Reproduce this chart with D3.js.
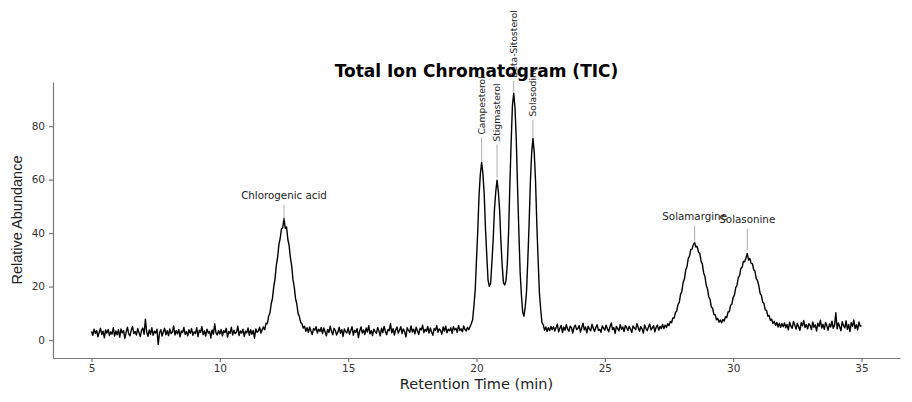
<!DOCTYPE html>
<html lang="en">
  <head>
    <meta charset="UTF-8" />
    <title>Total Ion Chromatogram (TIC)</title>
    <script src="https://cdn.jsdelivr.net/npm/d3@7"></script>
    <style>
      body { margin: 0; background: #fff; }
      .axis text { font-family: "DejaVu Sans", sans-serif; font-size: 10.5px; fill: #333; }
      .axis path, .axis line { stroke: #777; stroke-width: 1.2; }
    </style>
  </head>
  <body>
    <svg width="912" height="402"></svg>

    <script>
      // signal sampled every 0.05 min from 5.00 to 35.00 (one row per minute)
      var startTime = 5,
        sampleStep = 0.05;
      var abundance = [
        3.2, 1.8, 4.1, 2.5, 3.6, 1.2, 2.9, 4.4, 2.1, 3.3, 0.9, 3.8, 2.6, 4.0, 1.7, 3.1, 2.2, 4.6, 1.5, 3.4, // 5
        2.0, 3.9, 1.1, 4.2, 2.7, 3.5, 0.6, 3.0, 4.8, 2.3, 1.6, 3.7, 5.1, 2.4, 3.2, 1.9, 4.3, 2.8, 1.3, 3.6, // 6
        4.5, 2.2, 7.8, 2.9, 1.4, 3.8, 2.1, 4.6, 1.8, 3.3, 2.6, 4.1, -1.6, 2.7, 3.9, 1.5, 3.1, 4.4, 2.0, 3.5, // 7
        1.7, 4.2, 2.4, 3.0, 5.3, 1.9, 3.6, 2.3, 4.0, 1.2, 3.4, 2.8, 4.7, 2.1, 3.2, 1.6, 3.9, 2.5, 4.3, 1.8, // 8
        3.1, 2.4, 4.6, 1.3, 3.7, 2.9, 5.0, 2.0, 3.4, 1.5, 4.1, 2.6, 3.3, 0.8, 3.8, 2.2, 6.1, 2.7, 1.9, 3.6, // 9
        2.3, 4.0, 1.6, 3.5, 2.8, 4.4, 1.1, 3.2, 2.5, 4.8, 1.9, 3.7, 2.4, 3.0, 5.2, 1.7, 3.4, 2.6, 4.1, 1.4, // 10
        3.3, 2.7, 4.5, 1.8, 3.9, 2.2, 3.6, 0.7, 4.2, 2.9, 3.4, 4.8, 2.6, 3.9, 4.9, 3.9, 6.3, 6.1, 8.9, 10.0, // 11
        13.4, 15.6, 19.9, 22.8, 27.9, 30.8, 35.6, 37.9, 41.5, 42.0, 45.5, 41.8, 42.3, 37.6, 35.4, 30.7, 27.8, 22.6, 19.8, 15.5, // 12
        13.4, 9.9, 8.8, 6.6, 6.1, 4.5, 5.2, 3.3, 4.6, 2.9, 4.9, 3.4, 2.1, 4.3, 3.7, 5.0, 2.6, 4.1, 3.2, 4.7, // 13
        2.4, 4.5, 3.1, 1.6, 4.0, 2.8, 5.2, 3.3, 2.0, 4.4, 3.6, 1.9, 3.0, 4.8, 2.5, 3.9, 1.4, 4.2, 3.1, 2.7, // 14
        4.6, 2.2, 3.5, 5.0, 1.8, 3.7, 2.9, 4.3, 0.9, 3.4, 4.9, 2.6, 3.8, 2.1, 4.5, 3.0, 5.4, 2.3, 3.6, 1.7, // 15
        4.1, 3.2, 2.5, 4.7, 3.4, 1.6, 4.4, 2.8, 5.1, 3.3, 2.0, 4.0, 3.5, 6.2, 2.7, 4.3, 1.9, 3.8, 4.9, 2.6, // 16
        3.7, 5.0, 2.4, 4.2, 3.1, 1.2, 4.6, 3.6, 2.9, 5.3, 3.0, 4.1, 2.3, 4.8, 3.5, 2.1, 4.4, 3.8, 5.6, 2.8, // 17
        4.0, 3.3, 5.1, 2.6, 4.5, 3.0, 1.8, 4.3, 3.7, 5.4, 2.9, 4.2, 3.6, 2.2, 4.9, 3.4, 5.2, 2.7, 4.1, 3.5, // 18
        4.6, 2.5, 5.0, 3.8, 4.4, 2.9, 5.5, 3.6, 4.2, 3.1, 5.3, 4.0, 3.4, 4.8, 3.9, 5.1, 6.2, 7.6, 12.9, 18.8, // 19
        30.1, 41.0, 54.3, 62.1, 66.4, 62.3, 54.5, 41.6, 31.7, 22.4, 20.1, 21.2, 29.0, 37.5, 48.9, 55.4, 59.8, 55.6, 48.7, 37.1, // 20
        28.2, 21.4, 20.6, 22.3, 28.4, 40.2, 58.1, 74.0, 87.7, 92.3, 86.8, 75.0, 56.9, 40.7, 25.5, 16.8, 10.4, 8.9, 12.6, 18.2, // 21
        30.2, 43.5, 59.5, 70.1, 75.4, 70.0, 59.6, 43.4, 30.1, 17.9, 11.6, 6.5, 5.8, 3.7, 4.9, 3.2, 4.6, 3.5, 5.1, 3.9, // 22
        5.0, 3.4, 4.7, 6.0, 3.1, 4.4, 5.5, 2.8, 4.9, 3.7, 5.8, 4.1, 3.3, 5.2, 4.6, 2.6, 4.8, 5.6, 3.9, 4.3, // 23
        5.4, 3.0, 4.6, 6.3, 3.8, 4.9, 2.7, 5.2, 4.1, 3.5, 5.9, 4.4, 3.2, 4.8, 5.7, 3.6, 4.0, 2.9, 5.3, 4.5, // 24
        3.7, 5.6, 4.2, 3.1, 5.0, 6.4, 3.9, 4.7, 2.5, 5.1, 4.3, 3.4, 5.8, 4.0, 4.9, 3.2, 5.5, 4.6, 3.6, 5.2, // 25
        4.1, 2.8, 5.3, 4.5, 3.9, 6.1, 4.7, 3.3, 5.0, 4.2, 2.6, 5.7, 4.4, 3.5, 4.9, 6.0, 3.8, 4.6, 5.4, 3.1, // 26
        4.8, 5.6, 3.7, 5.1, 4.3, 5.9, 4.3, 5.6, 4.7, 6.1, 5.4, 7.0, 6.5, 8.3, 8.2, 10.3, 10.8, 13.3, 14.1, 17.1, // 27
        18.2, 21.5, 22.8, 26.1, 27.4, 30.5, 31.4, 33.9, 34.0, 35.8, 36.4, 34.8, 35.0, 32.9, 32.4, 29.5, 28.4, 25.1, 23.8, 20.5, // 28
        19.2, 16.1, 15.2, 12.4, 11.9, 9.5, 9.5, 7.6, 8.1, 6.7, 7.5, 6.5, 7.7, 7.1, 8.7, 8.4, 10.5, 10.6, 13.0, 13.4, // 29
        16.0, 16.8, 19.6, 20.5, 23.4, 24.1, 26.8, 27.2, 29.4, 29.3, 30.8, 32.4, 29.9, 30.5, 28.7, 28.6, 26.3, 25.7, 23.0, 22.2, // 30
        20.3, 17.5, 16.7, 14.2, 13.7, 11.3, 11.1, 9.0, 9.2, 7.4, 7.8, 6.2, 7.0, 5.5, 6.6, 4.9, 6.3, 4.8, 6.2, 5.0, // 31
        6.4, 4.6, 5.9, 3.8, 6.7, 5.2, 4.4, 7.0, 5.6, 4.1, 6.2, 5.0, 3.6, 6.5, 5.3, 7.3, 4.7, 5.8, 4.2, 6.1, // 32
        5.5, 3.9, 6.8, 4.8, 5.7, 3.4, 6.3, 5.1, 7.4, 4.5, 5.9, 4.0, 6.6, 5.3, 3.7, 6.0, 4.9, 7.1, 4.4, 5.6, // 33
        10.2, 4.2, 6.4, 5.0, 3.5, 6.9, 5.4, 4.6, 7.2, 4.0, 5.8, 3.2, 6.5, 5.1, 7.5, 4.3, 5.7, 3.8, 6.8, 5.2, // 34
        5.5, // 35
      ];

      var peakNames = [
        "Chlorogenic acid",
        "Campesterol",
        "Stigmasterol",
        "Beta-Sitosterol",
        "Solasodine",
        "Solamargine",
        "Solasonine",
      ];
      var peakTimes = [12.5, 20.2, 20.8, 21.45, 22.2, 28.5, 30.55];
      var peakHeights = [44, 66, 60, 92, 75, 36, 33];

      var xTicks = [5, 10, 15, 20, 25, 30, 35];
      var yTicks = [0, 20, 40, 60, 80];

      // label placement: rotated or not, and lift above the peak (px)
      var labelLayout = [
        { rotate: false, lift: 23.5 },
        { rotate: true, lift: 29 },
        { rotate: true, lift: 38 },
        { rotate: true, lift: 16 },
        { rotate: true, lift: 23 },
        { rotate: false, lift: 24 },
        { rotate: false, lift: 29 },
      ];

      var svg = d3.select("svg"),
        W = +svg.attr("width"),
        H = +svg.attr("height"),
        margin = { top: 82, right: 12, bottom: 44, left: 53 };

      var x = d3
        .scaleLinear()
        .domain([3.5, 36.5])
        .range([margin.left, W - margin.right]);
      var y = d3
        .scaleLinear()
        .domain([-6.7, 96.5])
        .range([H - margin.bottom, margin.top]);

      svg
        .append("g")
        .attr("class", "axis axis--x")
        .attr("transform", "translate(0," + (H - margin.bottom) + ")")
        .call(d3.axisBottom(x).tickValues(xTicks).tickSize(4).tickSizeOuter(0).tickPadding(3));

      svg
        .append("g")
        .attr("class", "axis axis--y")
        .attr("transform", "translate(" + margin.left + ",0)")
        .call(d3.axisLeft(y).tickValues(yTicks).tickSize(4).tickSizeOuter(0).tickPadding(4));

      // trace
      var line = d3
        .line()
        .x(function (d, i) {
          return x(startTime + i * sampleStep);
        })
        .y(function (d) {
          return y(d);
        });

      svg
        .append("path")
        .datum(abundance)
        .attr("fill", "none")
        .attr("stroke", "#000")
        .attr("stroke-width", 1.4)
        .attr("stroke-linejoin", "round")
        .attr("d", line);

      // peak annotations
      peakNames.forEach(function (name, i) {
        var lay = labelLayout[i],
          px = x(peakTimes[i]),
          top = y(peakHeights[i]),
          textY = top - lay.lift;

        svg
          .append("line")
          .attr("x1", px)
          .attr("x2", px)
          .attr("y1", top - 2)
          .attr("y2", textY + (lay.rotate ? 3 : 6))
          .attr("stroke", "#999")
          .attr("stroke-width", 0.8);

        var t = svg
          .append("text")
          .attr("font-family", "DejaVu Sans, sans-serif")
          .attr("fill", "#222")
          .text(name);

        if (lay.rotate) {
          t.attr("transform", "translate(" + px + "," + textY + ") rotate(-90)")
            .attr("font-size", "9.2px")
            .attr("text-anchor", "start")
            .attr("dy", "0.35em");
        } else {
          t.attr("x", px)
            .attr("y", textY)
            .attr("font-size", "10.3px")
            .attr("text-anchor", "middle");
        }
      });

      // axis titles
      svg
        .append("text")
        .attr("x", (margin.left + W - margin.right) / 2)
        .attr("y", 389)
        .attr("text-anchor", "middle")
        .attr("font-family", "DejaVu Sans, sans-serif")
        .attr("font-size", "14.5px")
        .attr("fill", "#222")
        .text("Retention Time (min)");

      svg
        .append("text")
        .attr("transform", "translate(22," + 220 + ") rotate(-90)")
        .attr("text-anchor", "middle")
        .attr("font-family", "Liberation Sans, Arial, sans-serif")
        .attr("font-size", "14.5px")
        .attr("fill", "#222")
        .text("Relative Abundance");

      // title on top of the labels
      svg
        .append("text")
        .attr("x", (margin.left + W - margin.right) / 2)
        .attr("y", 77)
        .attr("text-anchor", "middle")
        .attr("font-family", "DejaVu Sans, sans-serif")
        .attr("font-weight", "bold")
        .attr("font-size", "17px")
        .attr("fill", "#000")
        .text("Total Ion Chromatogram (TIC)");
    </script>
  </body>
</html>
